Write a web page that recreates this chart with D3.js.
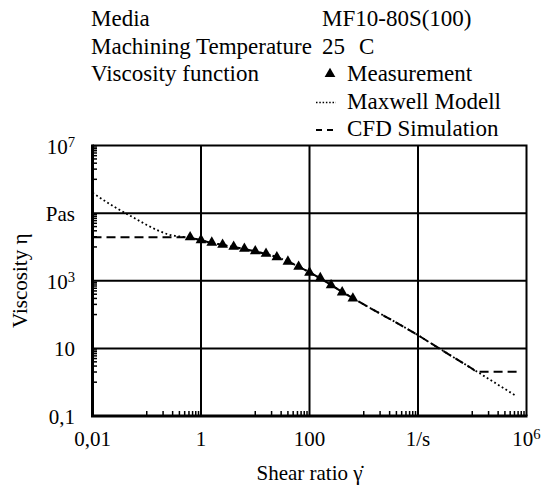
<!DOCTYPE html>
<html>
<head>
<meta charset="utf-8">
<script src="https://d3js.org/d3.v7.min.js"></script>
<style>
  body { margin: 0; background: #fff; }
  svg text { font-family: "Liberation Serif", "Times New Roman", serif; fill: #000; }
</style>
</head>
<body>
<svg id="chart" width="543" height="487"></svg>
<script>
var measShear = [0.63, 1, 1.58, 2.5, 4, 6.3, 10, 15.8, 25, 40, 63, 100, 158, 250, 400, 630];
var measVisc  = [19500, 16000, 13500, 11700, 10200, 8900, 7500, 6300, 5000, 3700, 2600, 1750, 1200, 740, 455, 300];

// Maxwell model curve
var maxShear = [0.01, 0.025, 0.063, 0.1, 0.25, 0.63, 1.58, 4, 10, 25, 63, 158, 400, 1000, 10000, 25000, 100000, 630000];
var maxVisc  = [398000, 155000, 67600, 44700, 23400, 18600, 13200, 10000, 7400, 5000, 2630, 1170, 470, 200, 24.5, 9.8, 2.5, 0.4];

// CFD simulation curve
var cfdShear = [0.01, 0.4, 0.63, 1.58, 4, 10, 25, 63, 158, 400, 1000, 10000, 25000, 100000, 123000, 680000];
var cfdVisc  = [19500, 19500, 18600, 13200, 10000, 7400, 5000, 2630, 1170, 470, 200, 24.5, 9.8, 2.5, 2.04, 2.04];

// axes
var xGrid = [0.01, 1, 100, 10000, 1000000];
var xTickLabels = ["0,01", "1", "100", "1/s", "10^6"];
var yGrid = [0.1, 10, 1000, 100000, 10000000];
var yTickLabels = ["0,1", "10", "10^3", "Pas", "10^7"];
var xMinorDecades = [0.1, 10, 1000, 100000];
var yMinorDecades = [1, 100, 10000, 1000000];
var minorSteps = [1, 2, 3, 4, 5, 6, 7, 8, 9];

// header
var headLeft = ["Media", "Machining Temperature", "Viscosity function"];
var headRight = ["MF10-80S(100)", "25", ""];
var legendNames = ["Measurement", "Maxwell Modell", "CFD Simulation"];

var svg = d3.select("#chart");
var pL = 92.5, pR = 526.5, pT = 145.5, pB = 416;

var x = d3.scaleLog().domain([0.01, 1e6]).range([pL, pR]);
var y = d3.scaleLog().domain([0.1, 1e7]).range([pB, pT]);

// write "10^6" style labels with superscript
function supText(sel, s) {
    var parts = s.split("^");
    sel.text(null);
    sel.append("tspan").text(parts[0]);
    if (parts.length > 1)
        sel.append("tspan").attr("dy", "-0.45em").attr("font-size", "0.7em").text(parts[1]);
}

// grid lines
svg.append("g").selectAll("line")
    .data(xGrid.slice(1, -1))
    .enter().append("line")
    .attr("x1", d => x(d)).attr("x2", d => x(d))
    .attr("y1", pT).attr("y2", pB)
    .attr("stroke", "#000").attr("stroke-width", 2);

svg.append("g").selectAll("line")
    .data(yGrid.slice(1, -1))
    .enter().append("line")
    .attr("y1", d => y(d)).attr("y2", d => y(d))
    .attr("x1", pL).attr("x2", pR)
    .attr("stroke", "#000").attr("stroke-width", 2);

// minor ticks, pointing inwards
var xMinor = [], yMinor = [];
xMinorDecades.forEach(d => minorSteps.forEach(m => xMinor.push(d * m)));
yMinorDecades.forEach(d => minorSteps.forEach(m => yMinor.push(d * m)));

svg.append("g").selectAll("line")
    .data(xMinor)
    .enter().append("line")
    .attr("x1", d => x(d)).attr("x2", d => x(d))
    .attr("y1", pB).attr("y2", pB - 5)
    .attr("stroke", "#000").attr("stroke-width", 1.5);

svg.append("g").selectAll("line")
    .data(yMinor)
    .enter().append("line")
    .attr("y1", d => y(d)).attr("y2", d => y(d))
    .attr("x1", pL).attr("x2", pL + 4.5)
    .attr("stroke", "#000").attr("stroke-width", 1.5);

// frame: top/right thin, left/bottom heavy
svg.append("path")
    .attr("d", `M${pL},${pT}H${pR}V${pB}`)
    .attr("fill", "none").attr("stroke", "#000").attr("stroke-width", 2);
svg.append("path")
    .attr("d", `M${pL},${pT - 1}V${pB}H${pR + 1}`)
    .attr("fill", "none").attr("stroke", "#000").attr("stroke-width", 3);

// tick labels
svg.append("g").selectAll("text")
    .data(xGrid)
    .enter().append("text")
    .attr("x", d => x(d))
    .attr("y", 446)
    .attr("text-anchor", "middle")
    .attr("font-size", 21)
    .each(function (d, i) { supText(d3.select(this), xTickLabels[i]); });

svg.append("g").selectAll("text")
    .data(yGrid)
    .enter().append("text")
    .attr("x", 75)
    .attr("y", d => y(d) + 8)
    .attr("text-anchor", "end")
    .attr("font-size", 21)
    .each(function (d, i) { supText(d3.select(this), yTickLabels[i]); });

// axis titles
svg.append("text")
    .attr("x", (pL + pR) / 2).attr("y", 480)
    .attr("text-anchor", "middle").attr("font-size", 21)
    .text("Shear ratio \u03B3\u0307");

svg.append("text")
    .attr("transform", `translate(27,${(pT + pB) / 2}) rotate(-90)`)
    .attr("text-anchor", "middle").attr("font-size", 21)
    .text("Viscosity  \u03B7");

// curves
var line = d3.line()
    .x(d => x(d[0]))
    .y(d => y(d[1]))
    .curve(d3.curveMonotoneX);

svg.append("path")
    .datum(d3.zip(maxShear, maxVisc))
    .attr("d", line)
    .attr("fill", "none").attr("stroke", "#000")
    .attr("stroke-width", 1.8).attr("stroke-dasharray", "1.8 2.6");

svg.append("path")
    .datum(d3.zip(cfdShear, cfdVisc))
    .attr("d", line)
    .attr("fill", "none").attr("stroke", "#000")
    .attr("stroke-width", 2).attr("stroke-dasharray", "9 5");

var tri = d3.symbol().type(d3.symbolTriangle).size(50);
svg.append("g").selectAll("path")
    .data(d3.zip(measShear, measVisc))
    .enter().append("path")
    .attr("d", tri)
    .attr("transform", d => `translate(${x(d[0])},${y(d[1])})`)
    .attr("fill", "#000");

// header block
var rows = [26, 53.5, 81, 108.5, 136];
svg.append("g").selectAll("text")
    .data(headLeft)
    .enter().append("text")
    .attr("x", 91).attr("y", (d, i) => rows[i])
    .attr("font-size", 23)
    .text(d => d);

svg.append("text").attr("x", 322).attr("y", rows[0]).attr("font-size", 23).text(headRight[0]);
svg.append("text").attr("x", 322).attr("y", rows[1]).attr("font-size", 23).text(headRight[1])
    .append("tspan").attr("x", 359).text("C");

svg.append("g").selectAll("text")
    .data(legendNames)
    .enter().append("text")
    .attr("x", 347).attr("y", (d, i) => rows[i + 2])
    .attr("font-size", 23)
    .text(d => d);

svg.append("path")
    .attr("d", tri)
    .attr("transform", `translate(330,${rows[2] - 7})`)
    .attr("fill", "#000");
svg.append("line")
    .attr("x1", 316).attr("x2", 336).attr("y1", rows[3] - 6).attr("y2", rows[3] - 6)
    .attr("stroke", "#000").attr("stroke-width", 1.5).attr("stroke-dasharray", "1.5 1.8");
svg.append("line")
    .attr("x1", 316).attr("x2", 336).attr("y1", rows[4] - 6).attr("y2", rows[4] - 6)
    .attr("stroke", "#000").attr("stroke-width", 2).attr("stroke-dasharray", "6 5");
</script>
</body>
</html>
